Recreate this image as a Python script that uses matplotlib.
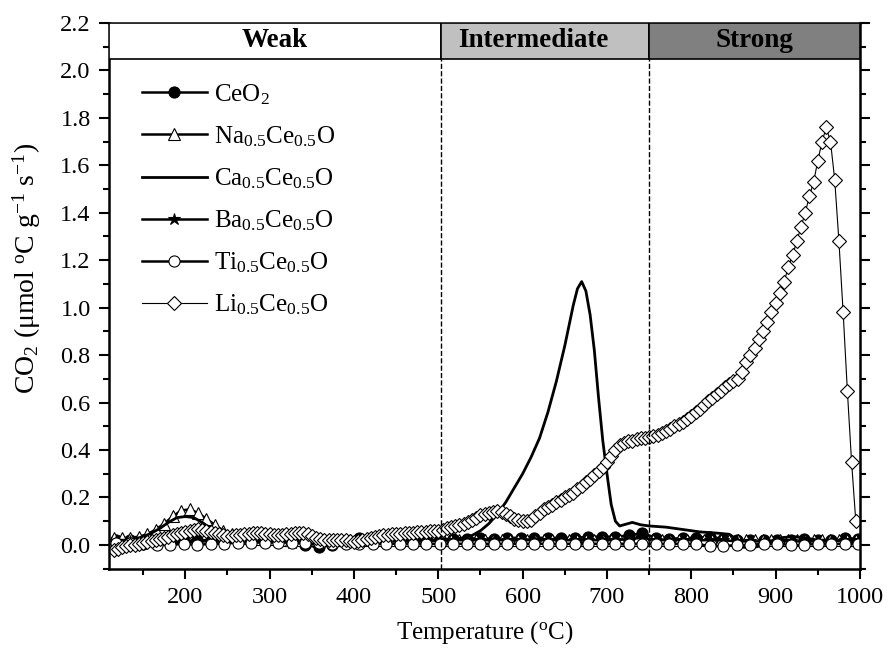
import numpy as np
import matplotlib
matplotlib.use("Agg")
import matplotlib.pyplot as plt
from matplotlib.patches import Rectangle
from matplotlib.ticker import MultipleLocator, FormatStrFormatter

plt.rcParams['font.family'] = ['Liberation Serif', 'DejaVu Sans']
plt.rcParams['mathtext.fontset'] = 'custom'
plt.rcParams['mathtext.rm'] = 'Liberation Serif'
plt.rcParams['mathtext.it'] = 'Liberation Serif:italic'
plt.rcParams['mathtext.bf'] = 'Liberation Serif:bold'

# Li0.5Ce0.5O (diamants), un point tous les 5 degres
t_li = np.arange(115, 1000, 5)
co2_li = [-0.02, -0.015, -0.01, -0.005, 0.0, 0.0, 0.005, 0.01, 0.012, 0.015,
          0.02, 0.025, 0.03, 0.035, 0.04, 0.045, 0.05, 0.055, 0.06, 0.065,
          0.068, 0.065, 0.06, 0.055, 0.05, 0.045, 0.04, 0.038, 0.038, 0.04,
          0.042, 0.045, 0.048, 0.05, 0.05, 0.05, 0.048, 0.045, 0.043, 0.042,
          0.043, 0.045, 0.048, 0.05, 0.052, 0.05, 0.045, 0.038, 0.03, 0.025,
          0.02, 0.02, 0.02, 0.022, 0.022, 0.02, 0.015, 0.012, 0.015, 0.02,
          0.025, 0.03, 0.035, 0.038, 0.04, 0.042, 0.045, 0.047, 0.048, 0.05,
          0.05, 0.052, 0.053, 0.055, 0.056, 0.057, 0.058, 0.06, 0.065, 0.07,
          0.075, 0.08, 0.085, 0.09, 0.095, 0.105, 0.115, 0.125, 0.13, 0.135,
          0.14, 0.145, 0.14, 0.13, 0.12, 0.11, 0.105, 0.10, 0.10, 0.105,
          0.12, 0.135, 0.15, 0.16, 0.17, 0.18, 0.19, 0.20, 0.21, 0.22,
          0.235, 0.25, 0.265, 0.28, 0.295, 0.31, 0.33, 0.35, 0.375, 0.40,
          0.42, 0.43, 0.44, 0.44, 0.445, 0.45, 0.45, 0.455, 0.46, 0.465,
          0.47, 0.48, 0.49, 0.50, 0.51, 0.52, 0.53, 0.545, 0.56, 0.575,
          0.59, 0.605, 0.62, 0.635, 0.65, 0.665, 0.68, 0.69, 0.70, 0.73,
          0.77, 0.80, 0.83, 0.87, 0.90, 0.94, 0.98, 1.02, 1.06, 1.11,
          1.17, 1.22, 1.28, 1.34, 1.40, 1.47, 1.53, 1.62, 1.70, 1.76,
          1.70, 1.54, 1.28, 0.98, 0.65, 0.35, 0.10]

# Na0.5Ce0.5O (triangles), tous les 10 degres
t_na = np.arange(115, 1000, 10)
co2_na = [0.03, 0.03, 0.03, 0.035, 0.045, 0.065, 0.09, 0.12, 0.145, 0.15,
          0.135, 0.11, 0.085, 0.06, 0.045, 0.035, 0.03, 0.025, 0.025, 0.025,
          0.02, 0.02, 0.02, 0.02, 0.02, 0.02, 0.02, 0.02, 0.02, 0.02,
          0.02, 0.02, 0.02, 0.02, 0.02, 0.02, 0.02, 0.02, 0.02, 0.02,
          0.02, 0.02, 0.02, 0.02, 0.02, 0.02, 0.02, 0.02, 0.02, 0.02,
          0.02, 0.02, 0.02, 0.02, 0.02, 0.02, 0.02, 0.02, 0.02, 0.02,
          0.02, 0.02, 0.02, 0.02, 0.02, 0.02, 0.02, 0.02, 0.02, 0.02,
          0.02, 0.02, 0.02, 0.02, 0.02, 0.02, 0.02, 0.02, 0.02, 0.02,
          0.02, 0.02, 0.02, 0.02, 0.02, 0.02, 0.02, 0.02, 0.02]

# Ca0.5Ce0.5O (ligne seule)
t_ca = [110, 120, 130, 140, 150, 160, 170, 180, 190, 200, 210, 220, 230, 240,
        250, 260, 270, 300, 330, 360, 390, 410, 430, 460, 490, 510, 530, 540,
        550, 560, 570, 580, 590, 600, 610, 620, 630, 640, 650, 660, 665, 670,
        675, 680, 685, 690, 695, 700, 705, 710, 715, 720, 730, 740, 750, 770,
        790, 810, 830, 845, 855, 862, 875, 890, 905, 920, 935, 950, 970, 1000]
co2_ca = [0.02, 0.02, 0.02, 0.025, 0.035, 0.05, 0.07, 0.095, 0.115, 0.12,
          0.115, 0.095, 0.07, 0.05, 0.035, 0.03, 0.025, 0.02, 0.02, 0.02,
          0.02, 0.03, 0.025, 0.02, 0.02, 0.02, 0.03, 0.04, 0.06, 0.09, 0.13,
          0.18, 0.24, 0.30, 0.37, 0.45, 0.56, 0.69, 0.84, 1.01, 1.08, 1.11,
          1.07, 0.97, 0.82, 0.62, 0.44, 0.30, 0.17, 0.10, 0.08, 0.085, 0.095,
          0.085, 0.08, 0.075, 0.065, 0.055, 0.05, 0.045, 0.02, -0.01, -0.01,
          0.005, 0.03, 0.035, 0.03, 0.02, 0.02, 0.02]

# CeO2, Ba0.5Ce0.5O, Ti0.5Ce0.5O, tous les 16 degres
t_flat = np.arange(118, 1000, 16)
co2_ceo2 = [0.02, 0.02, 0.015, 0.01, 0.01, 0.015, 0.02, 0.02, 0.02, 0.02,
            0.02, 0.02, 0.02, 0.015, 0.0, -0.01, 0.0, 0.01, 0.03, 0.025,
            0.02, 0.02, 0.02, 0.02, 0.025, 0.025, 0.025, 0.03, 0.025, 0.03,
            0.03, 0.03, 0.03, 0.03, 0.03, 0.035, 0.035, 0.035, 0.04, 0.05,
            0.03, 0.025, 0.03, 0.03, 0.035, 0.025, 0.02, 0.02, 0.02, 0.02,
            0.02, 0.025, 0.02, 0.02, 0.03, 0.025]
co2_ba = [0.015, 0.015, 0.015, 0.01, 0.01, 0.01, 0.015, 0.015, 0.015, 0.015,
          0.015, 0.015, 0.015, 0.01, 0.005, 0.0, 0.005, 0.01, 0.02, 0.02,
          0.015, 0.015, 0.015, 0.015, 0.02, 0.02, 0.02, 0.02, 0.02, 0.02,
          0.02, 0.02, 0.02, 0.02, 0.02, 0.02, 0.02, 0.02, 0.025, 0.03,
          0.02, 0.02, 0.02, 0.02, 0.02, 0.02, 0.015, 0.015, 0.015, 0.015,
          0.015, 0.015, 0.015, 0.015, 0.02, 0.02]
co2_ti = [0.01, 0.01, 0.005, 0.0, 0.0, 0.005, 0.0, 0.005, 0.005, 0.01,
          0.01, 0.01, 0.01, 0.01, 0.01, 0.01, 0.005, 0.005, 0.005, 0.005,
          0.005, 0.005, 0.005, 0.005, 0.005, 0.005, 0.005, 0.005, 0.005, 0.005,
          0.005, 0.005, 0.005, 0.005, 0.005, 0.005, 0.005, 0.005, 0.005, 0.005,
          0.005, 0.005, 0.005, 0.005, -0.005, -0.005, 0.0, 0.0, 0.005, 0.005,
          0.0, 0.0, 0.005, 0.005, 0.005, 0.005]

# Zones de basicite
zones = ["Weak", "Intermediate", "Strong"]
zone_bords = [110, 503, 750, 1000]
zone_couleurs = ["white", "#c0c0c0", "#808080"]
zone_texte_x = [306, 613, 875]

fig = plt.figure(figsize=(8.9, 6.52), dpi=100)
ax = fig.add_axes([0.1229, 0.1278, 0.8434, 0.837])

mk = dict(mec="black", mew=0.8)
ax.plot(t_flat, co2_ceo2, "-", color="black", lw=1.8, marker="o",
        ms=8, mfc="black", label=r"CeO$_2$", **mk)
ax.plot(t_na, co2_na, "-", color="black", lw=1.8, marker="^", ms=8.5,
        mfc="white", label=r"Na$_{0.5}$Ce$_{0.5}$O", **mk)
ax.plot(t_ca, co2_ca, "-", color="black", lw=2.0,
        label=r"Ca$_{0.5}$Ce$_{0.5}$O")
ax.plot(t_flat, co2_ba, "-", color="black", lw=1.8, marker="*", ms=9,
        mfc="black", label=r"Ba$_{0.5}$Ce$_{0.5}$O", **mk)
ax.plot(t_flat, co2_ti, "-", color="black", lw=1.8, marker="o", ms=8,
        mfc="white", label=r"Ti$_{0.5}$Ce$_{0.5}$O", **mk)
ax.plot(t_li, co2_li, "-", color="black", lw=0.8, marker="D", ms=7.5,
        mfc="white", label=r"Li$_{0.5}$Ce$_{0.5}$O", **mk)

# bandes en haut + lignes pointillees
for i in range(3):
    ax.add_patch(Rectangle((zone_bords[i], 2.05), zone_bords[i + 1] - zone_bords[i], 0.15,
                           facecolor=zone_couleurs[i], edgecolor="black", lw=1.2, zorder=3))
    ax.text(zone_texte_x[i], 2.125, zones[i], ha="center", va="center",
            fontsize=19.5, fontweight="bold", zorder=4)
ax.vlines(zone_bords[1:3], -0.1, 2.05, colors="black", linestyles="dashed", lw=1.0)

ax.set_xlim(110, 1000)
ax.set_ylim(-0.1, 2.2)
ax.xaxis.set_major_locator(MultipleLocator(100))
ax.xaxis.set_minor_locator(MultipleLocator(50))
ax.yaxis.set_major_locator(MultipleLocator(0.2))
ax.yaxis.set_minor_locator(MultipleLocator(0.1))
ax.set_xticks(range(200, 1001, 100))
ax.yaxis.set_major_formatter(FormatStrFormatter("%.1f"))
ax.tick_params(which="both", direction="out", width=1.5, labelsize=17.5,
               right=True, top=False)
ax.tick_params(which="major", length=7.5, pad=6)
ax.tick_params(which="minor", length=4)
for s in ax.spines.values():
    s.set_linewidth(1.8)

ax.set_xlabel(r"Temperature ($^{\rm o}$C)", fontsize=18, labelpad=8)
ax.set_ylabel(r"CO$_2$ (μmol $^{\rm o}$C g$^{-1}$ s$^{-1}$)", fontsize=20)
ax.yaxis.set_label_coords(-0.088, 0.55)

ax.legend(loc="upper left", bbox_to_anchor=(0.03, 0.91), frameon=False,
          fontsize=18, handlelength=2.6, labelspacing=0.7, handletextpad=0.3,
          borderaxespad=0.0)

plt.savefig("out.png")
